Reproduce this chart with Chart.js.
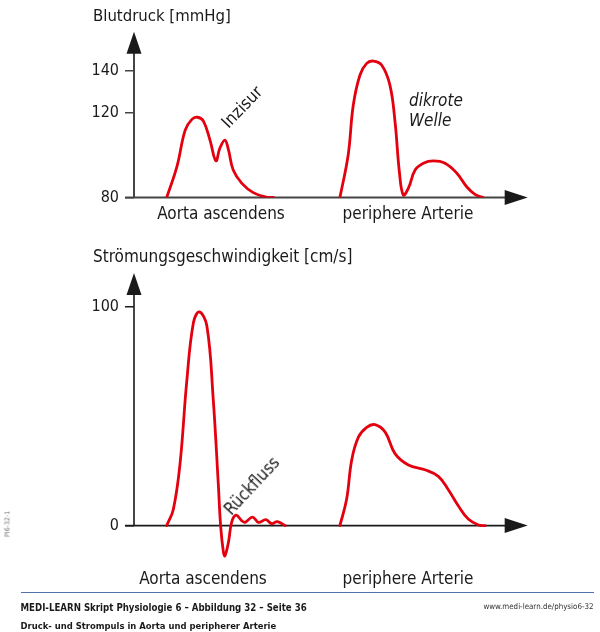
<!DOCTYPE html>
<html>
<head>
<meta charset="utf-8">
<script src="https://cdn.jsdelivr.net/npm/chart.js@4.4.0/dist/chart.umd.min.js"></script>
<style>
  body { margin: 0; background: #fff; }
  #wrap { position: relative; width: 600px; height: 632px; overflow: hidden;
          font-family: "Liberation Sans Narrow", "DejaVu Sans Condensed", sans-serif; color: #1a1a1a; }
  canvas { position: absolute; left: 0; }
  .t { position: absolute; white-space: nowrap; line-height: 1; }
  .c { transform: translateX(-50%); }
</style>
</head>
<body>
<div id="wrap">
  <canvas id="druck" width="600" height="240" style="top:0"></canvas>
  <canvas id="fluss" width="600" height="345" style="top:240px"></canvas>

  <div class="t" style="left:93px;top:8px;font-size:16.6px">Blutdruck [mmHg]</div>
  <div class="t c" style="left:221px;top:205px;font-size:17px">Aorta ascendens</div>
  <div class="t c" style="left:408px;top:205px;font-size:17px">periphere Arterie</div>
  <div class="t" style="left:242px;top:107px;font-size:17px;transform:translate(-50%,-50%) rotate(-46deg)">Inzisur</div>
  <div class="t" style="left:409px;top:90px;font-size:17px;font-style:italic;line-height:20px">dikrote<br>Welle</div>

  <div class="t" style="left:93px;top:248px;font-size:17px">Strömungsgeschwindigkeit [cm/s]</div>
  <div class="t c" style="left:203px;top:570px;font-size:17px">Aorta ascendens</div>
  <div class="t c" style="left:408px;top:570px;font-size:17px">periphere Arterie</div>
  <div class="t" style="left:252px;top:486px;font-size:17px;transform:translate(-50%,-50%) rotate(-47deg)">Rückfluss</div>

  <div class="t" style="left:8px;top:524px;font-size:7px;color:#777;transform:translate(-50%,-50%) rotate(-90deg)">PI6-32-1</div>

  <div style="position:absolute;left:20.5px;top:591.5px;width:573px;height:1.6px;background:#4f73a8"></div>
  <div class="t" style="left:20.5px;top:602.5px;font-size:9.6px;font-weight:bold">MEDI-LEARN Skript Physiologie 6 – Abbildung 32 – Seite 36</div>
  <div class="t" style="right:6.5px;top:603px;font-size:7.9px;color:#333">www.medi-learn.de/physio6-32</div>
  <div class="t" style="left:20.5px;top:620.5px;font-size:9.4px;font-weight:bold">Druck- und Strompuls in Aorta und peripherer Arterie</div>
</div>

<script>
// Zeitachse in willkürlichen Einheiten (0..100)
const tDruckAorta = [8.3, 10.9, 13.0, 14.7, 16.1, 17.6, 19.3, 20.8, 21.8, 23.1, 24.0, 25.2, 27.4, 30.3, 33.7, 35.4];
const druckAorta  = [80, 94.6, 111.9, 117.0, 118.0, 116.3, 107.2, 97.4, 103.3, 107.2, 102.5, 93.0, 86.7, 82.3, 80.1, 80];

const tDruckPeri = [52.3, 54.4, 55.7, 57.4, 59.1, 60.8, 62.9, 65.0, 66.3, 67.4, 68.4, 69.7, 71.4, 73.5, 76.0, 79.0, 82.0, 84.5, 86.6, 88.7];
const druckPeri  = [80, 100.1, 123.8, 138.0, 143.5, 144.6, 142.7, 133.2, 115.9, 92.2, 81.2, 84.4, 93.0, 96.2, 97.3, 96.2, 91.5, 85.1, 81.5, 80];

const tFlussAorta = [8.3, 10.0, 11.7, 13.4, 15.1, 16.6, 18.5, 20.1, 21.4, 22.0, 22.7, 23.1, 24.0, 24.8, 25.9, 27.4, 28.2, 30.1, 31.6, 33.5, 35.0, 36.4, 38.4];
const flussAorta  = [0, 7.5, 28.4, 65.9, 92.8, 97.6, 91.3, 58.4, 19.4, 0, -12.0, -13.8, -7.5, 1.5, 4.8, 2.2, 1.5, 3.9, 1.5, 2.7, 0.9, 1.8, 0];

const tFlussPeri = [52.3, 54.0, 55.3, 57.0, 59.1, 61.2, 63.8, 66.3, 69.7, 73.9, 77.3, 79.8, 82.4, 84.9, 87.5, 89.2];
const flussPeri  = [0, 12.0, 30.0, 40.4, 44.9, 46.1, 42.7, 32.9, 27.7, 25.5, 22.5, 16.5, 9.0, 3.0, 0.3, 0];

const ticksDruck = [80, 120, 140];
const ticksFluss = [0, 100];

const rot = '#e3000f';

function punkte(xs, ys) {
  return xs.map((x, i) => ({ x: x, y: ys[i] }));
}

function achsenPlugin(nullWert, farbe, breite) {
  return {
    id: 'achsen',
    beforeDatasetsDraw(chart) {
      const ctx = chart.ctx;
      const a = chart.chartArea;
      const y0 = chart.scales.y.getPixelForValue(nullWert);
      const x0 = a.left;
      ctx.save();
      ctx.strokeStyle = farbe;
      ctx.fillStyle = '#1a1a1a';
      ctx.lineWidth = breite;
      ctx.beginPath();
      ctx.moveTo(x0 - 9, y0);
      ctx.lineTo(a.right - 20, y0);
      ctx.moveTo(x0, y0);
      ctx.lineTo(x0, a.top + 20);
      ctx.stroke();
      // Pfeilspitzen
      ctx.beginPath();
      ctx.moveTo(a.right, y0);
      ctx.lineTo(a.right - 23, y0 - 7.5);
      ctx.lineTo(a.right - 23, y0 + 7.5);
      ctx.closePath();
      ctx.fill();
      ctx.beginPath();
      ctx.moveTo(x0, a.top);
      ctx.lineTo(x0 - 7.5, a.top + 22);
      ctx.lineTo(x0 + 7.5, a.top + 22);
      ctx.closePath();
      ctx.fill();
      ctx.restore();
    }
  };
}

function optionen(min, max, ticks, padding, farbe) {
  return {
    responsive: false,
    animation: false,
    layout: { padding: padding },
    plugins: { legend: { display: false }, tooltip: { enabled: false } },
    elements: { point: { radius: 0 } },
    scales: {
      x: { type: 'linear', min: 0, max: 100, display: false },
      y: {
        type: 'linear',
        min: min,
        max: max,
        afterBuildTicks: (s) => { s.ticks = ticks.map(v => ({ value: v })); },
        afterFit: (s) => { s.width = 134; },
        border: { display: false },
        grid: { drawOnChartArea: false, drawTicks: true, tickLength: 9, color: farbe, lineWidth: 1.5 },
        ticks: {
          padding: 6,
          color: '#1a1a1a',
          font: { family: '"Liberation Sans Narrow", "DejaVu Sans Condensed", sans-serif', size: 16 }
        }
      }
    }
  };
}

function linie(daten) {
  return {
    data: daten,
    borderColor: rot,
    borderWidth: 2.8,
    fill: false,
    tension: 0.4,
    borderCapStyle: 'round',
    borderJoinStyle: 'round'
  };
}

new Chart(document.getElementById('druck').getContext('2d'), {
  type: 'line',
  data: {
    datasets: [
      linie(punkte(tDruckAorta, druckAorta)),
      linie(punkte(tDruckPeri, druckPeri))
    ]
  },
  options: optionen(80, 158.5, ticksDruck, { left: 0, right: 72.3, top: 31.7, bottom: 42.5 }, '#444'),
  plugins: [achsenPlugin(80, '#444', 2)]
});

new Chart(document.getElementById('fluss').getContext('2d'), {
  type: 'line',
  data: {
    datasets: [
      linie(punkte(tFlussAorta, flussAorta)),
      linie(punkte(tFlussPeri, flussPeri))
    ]
  },
  options: optionen(-20, 115.4, ticksFluss, { left: 0, right: 72.3, top: 33, bottom: 10.5 }, '#1a1a1a'),
  plugins: [achsenPlugin(0, '#1a1a1a', 1.6)]
});
</script>
</body>
</html>
